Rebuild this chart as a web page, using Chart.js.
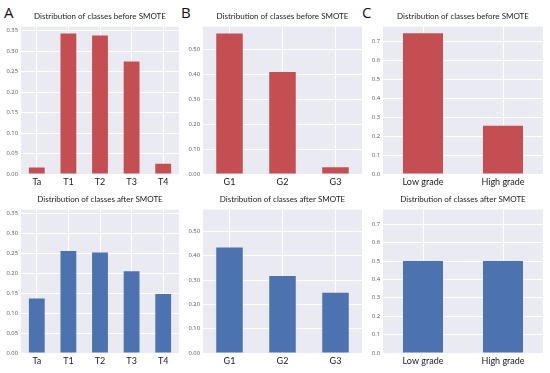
<!DOCTYPE html>
<html>
<head>
<meta charset="utf-8">
<script src="https://cdn.jsdelivr.net/npm/chart.js@4.4.0/dist/chart.umd.min.js"></script>
<style>
  body { margin: 0; background: #fff; width: 550px; height: 373px; position: relative; overflow: hidden; }
  canvas { position: absolute; }
  .lbl { position: absolute; font-family: "Open Sans", sans-serif; font-size: 15px; color: #111; }
</style>
</head>
<body>
<div class="lbl" style="left:4px;top:2px">A</div>
<div class="lbl" style="left:181px;top:2px">B</div>
<div class="lbl" style="left:362px;top:2px">C</div>

<canvas id="a1" width="178" height="180" style="left:1px;top:10px"></canvas>
<canvas id="b1" width="179" height="180" style="left:183px;top:10px"></canvas>
<canvas id="c1" width="180" height="180" style="left:363px;top:10px"></canvas>
<canvas id="a2" width="178" height="176" style="left:1px;top:193px"></canvas>
<canvas id="b2" width="179" height="176" style="left:183px;top:193px"></canvas>
<canvas id="c2" width="180" height="176" style="left:363px;top:193px"></canvas>

<script>
// stage classes
var stageLabels = ["Ta", "T1", "T2", "T3", "T4"];
var stageBefore = [0.016, 0.343, 0.338, 0.275, 0.025];
var stageAfter = [0.137, 0.256, 0.252, 0.205, 0.148];
var stageTicks = [0, 0.05, 0.10, 0.15, 0.20, 0.25, 0.30, 0.35];

// grade classes
var gradeLabels = ["G1", "G2", "G3"];
var gradeBefore = [0.562, 0.408, 0.027];
var gradeAfter = [0.434, 0.317, 0.248];
var gradeTicks = [0, 0.1, 0.2, 0.3, 0.4, 0.5];

// low / high grade
var lhLabels = ["Low grade", "High grade"];
var lhBefore = [0.745, 0.255];
var lhAfter = [0.5, 0.5];
var lhTicks = [0, 0.1, 0.2, 0.3, 0.4, 0.5, 0.6, 0.7];

var RED = "#c44e52";
var BLUE = "#4c72b0";

// grey panel behind the bars, like seaborn darkgrid
var bgPlugin = {
  id: "bg",
  beforeDraw: function(chart) {
    var a = chart.chartArea, ctx = chart.ctx;
    ctx.save();
    ctx.fillStyle = "#eaeaf2";
    ctx.fillRect(a.left, a.top, a.right - a.left, a.bottom - a.top);
    ctx.restore();
  }
};

function makeChart(id, labels, values, color, ticks, ymax, digits, title, xh) {
  new Chart(document.getElementById(id), {
    type: "bar",
    data: {
      labels: labels,
      datasets: [{ data: values, backgroundColor: color, categoryPercentage: 1, barPercentage: 0.5 }]
    },
    options: {
      responsive: false,
      animation: false,
      layout: { padding: 0 },
      plugins: {
        legend: { display: false },
        tooltip: { enabled: false },
        title: {
          display: true, text: title, color: "#222", fullSize: false,
          font: { family: "Lato", size: 8, weight: "normal" },
          padding: { top: 2, bottom: 5 }
        }
      },
      scales: {
        x: {
          grid: { color: "#fff", lineWidth: 1, offset: false, drawTicks: false },
          border: { display: false },
          ticks: { color: "#1a1a1a", font: { family: "Lato", size: 9 }, padding: 3, maxRotation: 0 },
          afterFit: function(s) { s.height = xh; }
        },
        y: {
          min: 0, max: ymax,
          grid: { color: "#fff", lineWidth: 1, drawTicks: false },
          border: { display: false },
          ticks: {
            color: "#555", font: { family: "Open Sans", size: 5.8 }, padding: 3,
            callback: function(v) { return Number(v).toFixed(digits); }
          },
          afterBuildTicks: function(s) { s.ticks = ticks.map(function(v) { return { value: v }; }); },
          afterFit: function(s) { s.width = 20; }
        }
      }
    },
    plugins: [bgPlugin]
  });
}

makeChart("a1", stageLabels, stageBefore, RED, stageTicks, 0.36, 2, "Distribution of classes before SMOTE", 16);
makeChart("b1", gradeLabels, gradeBefore, RED, gradeTicks, 0.59, 2, "Distribution of classes before SMOTE", 16);
makeChart("c1", lhLabels, lhBefore, RED, lhTicks, 0.78, 1, "Distribution of classes before SMOTE", 16);
makeChart("a2", stageLabels, stageAfter, BLUE, stageTicks, 0.36, 2, "Distribution of classes after SMOTE", 16);
makeChart("b2", gradeLabels, gradeAfter, BLUE, gradeTicks, 0.59, 2, "Distribution of classes after SMOTE", 16);
makeChart("c2", lhLabels, lhAfter, BLUE, lhTicks, 0.78, 1, "Distribution of classes after SMOTE", 16);
</script>
</body>
</html>
